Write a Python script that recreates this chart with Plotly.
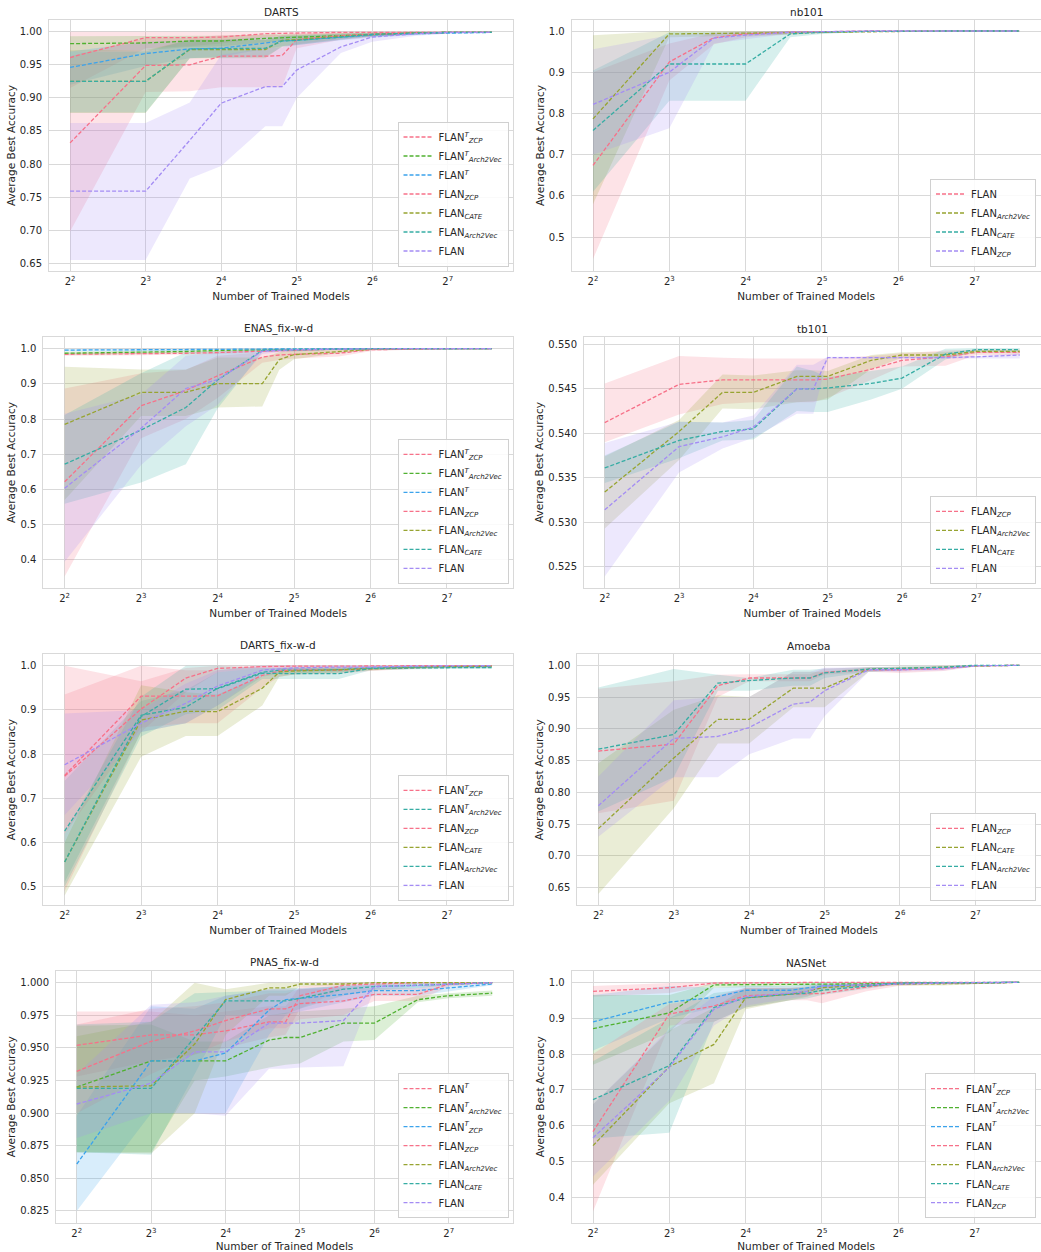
import math
import plotly.graph_objects as go

# ---------------- data ----------------
X = [4, 8, 12, 16, 24, 28, 32, 48, 64, 96, 128, 192]
XTICKS = [4, 8, 16, 32, 64, 128]
XTICKTEXT = ["2<sup>2</sup>", "2<sup>3</sup>", "2<sup>4</sup>", "2<sup>5</sup>", "2<sup>6</sup>", "2<sup>7</sup>"]

# DARTS
darts_tzcp = [0.961, 0.991, 0.991, 0.992, 0.997, 0.998, 0.998, 0.999, 0.999, 0.999, 0.999, 0.999]
darts_tzcp_lo = [0.915, 0.975, 0.978, 0.982, 0.992, 0.994, 0.995, 0.997, 0.998, 0.998, 0.999, 0.999]
darts_tzcp_hi = [1.000, 1.000, 1.000, 1.000, 1.000, 1.000, 1.000, 1.000, 1.000, 1.000, 1.000, 1.000]
darts_tarch = [0.982, 0.983, 0.986, 0.986, 0.990, 0.991, 0.991, 0.994, 0.996, 0.998, 0.999, 0.999]
darts_tarch_lo = [0.970, 0.972, 0.977, 0.978, 0.984, 0.986, 0.987, 0.990, 0.993, 0.996, 0.998, 0.998]
darts_tarch_hi = [0.993, 0.993, 0.994, 0.994, 0.996, 0.996, 0.996, 0.998, 0.999, 1.000, 1.000, 1.000]
darts_t = [0.946, 0.967, 0.974, 0.975, 0.983, 0.986, 0.987, 0.992, 0.995, 0.997, 0.998, 0.999]
darts_t_lo = [0.920, 0.948, 0.960, 0.962, 0.974, 0.978, 0.980, 0.987, 0.991, 0.995, 0.997, 0.998]
darts_t_hi = [0.970, 0.985, 0.987, 0.988, 0.992, 0.993, 0.994, 0.996, 0.998, 0.999, 1.000, 1.000]
darts_zcp = [0.832, 0.949, 0.950, 0.963, 0.963, 0.964, 0.988, 0.994, 0.996, 0.998, 0.999, 0.999]
darts_zcp_lo = [0.698, 0.909, 0.910, 0.916, 0.916, 0.916, 0.975, 0.988, 0.992, 0.996, 0.998, 0.998]
darts_zcp_hi = [0.963, 0.990, 0.990, 0.995, 0.995, 0.995, 0.998, 0.999, 1.000, 1.000, 1.000, 1.000]
darts_cate = [0.925, 0.925, 0.973, 0.973, 0.973, 0.987, 0.988, 0.993, 0.996, 0.998, 0.999, 0.999]
darts_cate_lo = [0.877, 0.877, 0.960, 0.960, 0.960, 0.978, 0.980, 0.989, 0.993, 0.996, 0.998, 0.998]
darts_cate_hi = [0.972, 0.972, 0.988, 0.988, 0.988, 0.994, 0.995, 0.997, 0.998, 0.999, 1.000, 1.000]
darts_arch = [0.925, 0.925, 0.974, 0.974, 0.975, 0.986, 0.987, 0.992, 0.996, 0.998, 0.999, 0.999]
darts_arch_lo = [0.878, 0.878, 0.960, 0.961, 0.962, 0.977, 0.979, 0.988, 0.993, 0.996, 0.998, 0.998]
darts_arch_hi = [0.970, 0.970, 0.988, 0.988, 0.988, 0.994, 0.995, 0.997, 0.998, 0.999, 1.000, 1.000]
darts_flan = [0.759, 0.759, 0.836, 0.892, 0.917, 0.917, 0.942, 0.977, 0.992, 0.997, 0.999, 0.999]
darts_flan_lo = [0.655, 0.655, 0.778, 0.797, 0.857, 0.857, 0.900, 0.968, 0.985, 0.994, 0.997, 0.998]
darts_flan_hi = [0.862, 0.862, 0.893, 0.965, 0.975, 0.976, 0.985, 0.990, 0.998, 1.000, 1.000, 1.000]

# nb101
nb_flan = [0.674, 0.925, 0.984, 0.993, 0.997, 0.998, 0.999, 1.000, 1.000, 1.000, 1.000, 1.000]
nb_flan_lo = [0.447, 0.880, 0.968, 0.985, 0.993, 0.995, 0.997, 0.999, 1.000, 1.000, 1.000, 1.000]
nb_flan_hi = [0.900, 0.970, 0.995, 0.998, 1.000, 1.000, 1.000, 1.000, 1.000, 1.000, 1.000, 1.000]
nb_arch = [0.787, 0.993, 0.994, 0.995, 0.996, 0.997, 0.998, 0.999, 1.000, 1.000, 1.000, 1.000]
nb_arch_lo = [0.580, 0.985, 0.987, 0.989, 0.991, 0.993, 0.995, 0.998, 0.999, 1.000, 1.000, 1.000]
nb_arch_hi = [0.990, 1.000, 1.000, 1.000, 1.000, 1.000, 1.000, 1.000, 1.000, 1.000, 1.000, 1.000]
nb_cate = [0.759, 0.920, 0.920, 0.920, 0.993, 0.995, 0.997, 0.999, 1.000, 1.000, 1.000, 1.000]
nb_cate_lo = [0.610, 0.831, 0.831, 0.831, 0.985, 0.989, 0.993, 0.998, 1.000, 1.000, 1.000, 1.000]
nb_cate_hi = [0.904, 0.997, 0.997, 0.997, 1.000, 1.000, 1.000, 1.000, 1.000, 1.000, 1.000, 1.000]
nb_zcp = [0.822, 0.900, 0.983, 0.990, 0.997, 0.998, 0.999, 1.000, 1.000, 1.000, 1.000, 1.000]
nb_zcp_lo = [0.700, 0.764, 0.970, 0.980, 0.993, 0.995, 0.997, 0.999, 1.000, 1.000, 1.000, 1.000]
nb_zcp_hi = [0.956, 0.990, 0.995, 0.998, 1.000, 1.000, 1.000, 1.000, 1.000, 1.000, 1.000, 1.000]

# ENAS_fix-w-d
enas_tzcp = [0.984, 0.985, 0.987, 0.989, 0.993, 0.995, 0.997, 0.999, 1.000, 1.000, 1.000, 1.000]
enas_tzcp_lo = [0.980, 0.981, 0.983, 0.985, 0.990, 0.992, 0.994, 0.997, 0.999, 1.000, 1.000, 1.000]
enas_tzcp_hi = [0.988, 0.989, 0.991, 0.993, 0.996, 0.998, 0.999, 1.000, 1.000, 1.000, 1.000, 1.000]
enas_tarch = [0.987, 0.989, 0.992, 0.995, 0.997, 0.998, 0.999, 1.000, 1.000, 1.000, 1.000, 1.000]
enas_tarch_lo = [0.983, 0.985, 0.988, 0.992, 0.995, 0.996, 0.997, 0.999, 1.000, 1.000, 1.000, 1.000]
enas_tarch_hi = [0.991, 0.993, 0.996, 0.998, 0.999, 1.000, 1.000, 1.000, 1.000, 1.000, 1.000, 1.000]
enas_t = [0.996, 0.996, 0.997, 0.998, 0.999, 0.999, 1.000, 1.000, 1.000, 1.000, 1.000, 1.000]
enas_t_lo = [0.993, 0.993, 0.995, 0.996, 0.998, 0.998, 0.999, 1.000, 1.000, 1.000, 1.000, 1.000]
enas_t_hi = [0.999, 0.999, 0.999, 1.000, 1.000, 1.000, 1.000, 1.000, 1.000, 1.000, 1.000, 1.000]
enas_zcp = [0.622, 0.838, 0.881, 0.923, 0.976, 0.982, 0.984, 0.987, 0.997, 0.999, 1.000, 1.000]
enas_zcp_lo = [0.353, 0.746, 0.800, 0.860, 0.960, 0.968, 0.972, 0.978, 0.993, 0.998, 1.000, 1.000]
enas_zcp_hi = [0.887, 0.930, 0.940, 0.980, 0.990, 0.993, 0.995, 0.996, 1.000, 1.000, 1.000, 1.000]
enas_arch = [0.785, 0.876, 0.876, 0.901, 0.901, 0.969, 0.983, 0.993, 0.998, 1.000, 1.000, 1.000]
enas_arch_lo = [0.570, 0.809, 0.809, 0.833, 0.836, 0.940, 0.970, 0.987, 0.996, 0.999, 1.000, 1.000]
enas_arch_hi = [0.949, 0.941, 0.941, 0.975, 0.975, 0.990, 0.995, 0.998, 1.000, 1.000, 1.000, 1.000]
enas_cate = [0.672, 0.769, 0.833, 0.911, 0.995, 0.996, 0.997, 0.999, 1.000, 1.000, 1.000, 1.000]
enas_cate_lo = [0.560, 0.620, 0.672, 0.830, 0.990, 0.992, 0.994, 0.998, 1.000, 1.000, 1.000, 1.000]
enas_cate_hi = [0.812, 0.930, 0.990, 0.995, 1.000, 1.000, 1.000, 1.000, 1.000, 1.000, 1.000, 1.000]
enas_flan = [0.604, 0.774, 0.887, 0.912, 0.993, 0.995, 0.997, 0.999, 1.000, 1.000, 1.000, 1.000]
enas_flan_lo = [0.395, 0.670, 0.780, 0.840, 0.985, 0.990, 0.993, 0.997, 1.000, 1.000, 1.000, 1.000]
enas_flan_hi = [0.815, 0.870, 0.980, 0.990, 1.000, 1.000, 1.000, 1.000, 1.000, 1.000, 1.000, 1.000]

# tb101
tb_zcp = [0.5412, 0.5455, 0.5460, 0.5460, 0.5460, 0.5460, 0.5461, 0.5472, 0.5482, 0.5486, 0.5491, 0.5491]
tb_zcp_lo = [0.5390, 0.5421, 0.5433, 0.5435, 0.5435, 0.5435, 0.5440, 0.5460, 0.5475, 0.5476, 0.5488, 0.5488]
tb_zcp_hi = [0.5456, 0.5487, 0.5485, 0.5484, 0.5484, 0.5484, 0.5484, 0.5487, 0.5490, 0.5493, 0.5494, 0.5494]
tb_arch = [0.5334, 0.5402, 0.5446, 0.5446, 0.5464, 0.5464, 0.5464, 0.5482, 0.5488, 0.5488, 0.5492, 0.5492]
tb_arch_lo = [0.5293, 0.5370, 0.5428, 0.5427, 0.5435, 0.5436, 0.5438, 0.5472, 0.5485, 0.5485, 0.5490, 0.5490]
tb_arch_hi = [0.5374, 0.5415, 0.5466, 0.5465, 0.5471, 0.5471, 0.5470, 0.5488, 0.5491, 0.5491, 0.5494, 0.5494]
tb_cate = [0.5361, 0.5392, 0.5402, 0.5405, 0.5450, 0.5450, 0.5451, 0.5456, 0.5462, 0.5489, 0.5494, 0.5494]
tb_cate_lo = [0.5344, 0.5372, 0.5392, 0.5393, 0.5425, 0.5424, 0.5424, 0.5438, 0.5450, 0.5483, 0.5492, 0.5492]
tb_cate_hi = [0.5375, 0.5413, 0.5412, 0.5415, 0.5475, 0.5470, 0.5463, 0.5470, 0.5475, 0.5495, 0.5496, 0.5496]
tb_flan = [0.5314, 0.5385, 0.5396, 0.5407, 0.5450, 0.5450, 0.5485, 0.5485, 0.5485, 0.5485, 0.5486, 0.5488]
tb_flan_lo = [0.5239, 0.5356, 0.5383, 0.5395, 0.5422, 0.5422, 0.5484, 0.5484, 0.5484, 0.5484, 0.5484, 0.5484]
tb_flan_hi = [0.5389, 0.5413, 0.5412, 0.5420, 0.5477, 0.5477, 0.5486, 0.5486, 0.5486, 0.5486, 0.5487, 0.5490]

# DARTS_fix-w-d
dfix_tzcp = [0.750, 0.902, 0.972, 0.994, 0.998, 0.999, 0.999, 0.999, 1.000, 1.000, 1.000, 1.000]
dfix_tzcp_lo = [0.490, 0.850, 0.940, 0.985, 0.995, 0.997, 0.997, 0.998, 0.999, 1.000, 1.000, 1.000]
dfix_tzcp_hi = [1.000, 0.965, 0.995, 1.000, 1.000, 1.000, 1.000, 1.000, 1.000, 1.000, 1.000, 1.000]
dfix_tarch = [0.626, 0.888, 0.906, 0.949, 0.985, 0.990, 0.990, 0.991, 0.995, 0.997, 0.998, 0.998]
dfix_tarch_lo = [0.510, 0.850, 0.870, 0.910, 0.975, 0.982, 0.983, 0.985, 0.991, 0.994, 0.996, 0.996]
dfix_tarch_hi = [0.740, 0.920, 0.945, 0.985, 0.995, 0.996, 0.996, 0.997, 0.998, 0.999, 1.000, 1.000]
dfix_zcp = [0.752, 0.931, 0.931, 0.932, 0.978, 0.988, 0.990, 0.990, 0.993, 0.996, 0.998, 0.999]
dfix_zcp_lo = [0.620, 0.860, 0.870, 0.870, 0.950, 0.975, 0.980, 0.982, 0.988, 0.993, 0.996, 0.998]
dfix_zcp_hi = [0.935, 1.000, 0.990, 0.990, 1.000, 1.000, 1.000, 0.998, 0.998, 0.999, 1.000, 1.000]
dfix_cate = [0.556, 0.877, 0.897, 0.896, 0.949, 0.986, 0.988, 0.990, 0.993, 0.996, 0.998, 0.999]
dfix_cate_lo = [0.480, 0.794, 0.841, 0.841, 0.910, 0.975, 0.980, 0.984, 0.989, 0.993, 0.996, 0.998]
dfix_cate_hi = [0.600, 0.956, 0.940, 0.935, 0.975, 0.995, 0.996, 0.997, 0.998, 0.999, 1.000, 1.000]
dfix_arch = [0.556, 0.885, 0.947, 0.948, 0.983, 0.982, 0.982, 0.982, 0.994, 0.995, 0.996, 0.996]
dfix_arch_lo = [0.500, 0.840, 0.890, 0.900, 0.970, 0.970, 0.970, 0.970, 0.990, 0.992, 0.993, 0.993]
dfix_arch_hi = [0.620, 0.930, 1.000, 1.000, 0.995, 0.995, 0.995, 0.995, 0.998, 0.998, 0.999, 0.999]
dfix_flan = [0.776, 0.870, 0.915, 0.954, 0.990, 0.993, 0.995, 0.997, 0.997, 0.999, 1.000, 1.000]
dfix_flan_lo = [0.662, 0.850, 0.870, 0.910, 0.980, 0.985, 0.989, 0.993, 0.994, 0.997, 0.999, 0.999]
dfix_flan_hi = [0.892, 0.900, 0.960, 0.990, 1.000, 1.000, 1.000, 1.000, 1.000, 1.000, 1.000, 1.000]

# Amoeba
amo_zcp = [0.865, 0.876, 0.968, 0.980, 0.980, 0.980, 0.989, 0.993, 0.993, 0.995, 0.999, 1.000]
amo_zcp_lo = [0.767, 0.787, 0.950, 0.975, 0.975, 0.975, 0.985, 0.990, 0.988, 0.991, 0.998, 1.000]
amo_zcp_hi = [0.963, 0.975, 0.985, 0.986, 0.986, 0.986, 0.995, 0.997, 0.996, 0.998, 1.000, 1.000]
amo_cate = [0.743, 0.854, 0.915, 0.915, 0.964, 0.964, 0.964, 0.994, 0.995, 0.997, 0.999, 1.000]
amo_cate_lo = [0.640, 0.775, 0.877, 0.877, 0.934, 0.934, 0.934, 0.990, 0.992, 0.995, 0.998, 1.000]
amo_cate_hi = [0.846, 0.930, 0.953, 0.950, 0.990, 0.990, 0.990, 0.997, 0.998, 0.999, 1.000, 1.000]
amo_arch = [0.868, 0.891, 0.972, 0.976, 0.980, 0.980, 0.988, 0.994, 0.995, 0.997, 1.000, 1.000]
amo_arch_lo = [0.770, 0.824, 0.960, 0.960, 0.968, 0.968, 0.980, 0.990, 0.992, 0.995, 0.999, 1.000]
amo_arch_hi = [0.965, 0.994, 0.985, 0.980, 0.993, 0.993, 0.995, 0.997, 0.998, 0.999, 1.000, 1.000]
amo_flan = [0.779, 0.885, 0.888, 0.902, 0.939, 0.942, 0.960, 0.993, 0.993, 0.995, 0.999, 1.000]
amo_flan_lo = [0.730, 0.824, 0.824, 0.860, 0.885, 0.885, 0.920, 0.990, 0.990, 0.992, 0.998, 1.000]
amo_flan_hi = [0.825, 0.945, 0.950, 0.950, 0.990, 0.990, 0.996, 0.997, 0.997, 0.998, 1.000, 1.000]

# PNAS_fix-w-d
pnas_t = [0.952, 0.960, 0.960, 0.963, 0.970, 0.970, 0.990, 0.998, 0.999, 1.000, 1.000, 1.000]
pnas_t_lo = [0.928, 0.940, 0.945, 0.950, 0.958, 0.960, 0.980, 0.995, 0.997, 0.999, 1.000, 1.000]
pnas_t_hi = [0.978, 0.978, 0.975, 0.978, 0.982, 0.982, 0.997, 1.000, 1.000, 1.000, 1.000, 1.000]
pnas_tarch = [0.920, 0.940, 0.940, 0.940, 0.956, 0.958, 0.958, 0.969, 0.969, 0.987, 0.990, 0.992]
pnas_tarch_lo = [0.870, 0.870, 0.925, 0.928, 0.935, 0.937, 0.938, 0.955, 0.956, 0.985, 0.988, 0.990]
pnas_tarch_hi = [0.967, 0.968, 0.955, 0.955, 0.975, 0.977, 0.978, 0.980, 0.982, 0.990, 0.992, 0.994]
pnas_tzcp = [0.861, 0.940, 0.940, 0.946, 0.979, 0.987, 0.988, 0.991, 0.994, 0.994, 0.996, 0.999]
pnas_tzcp_lo = [0.825, 0.900, 0.900, 0.900, 0.960, 0.975, 0.978, 0.985, 0.990, 0.990, 0.993, 0.998]
pnas_tzcp_hi = [0.898, 0.982, 0.980, 0.990, 0.995, 0.996, 0.996, 0.997, 0.998, 0.998, 0.999, 1.000]
pnas_zcp = [0.932, 0.955, 0.963, 0.971, 0.980, 0.980, 0.984, 0.986, 0.991, 0.991, 0.999, 1.000]
pnas_zcp_lo = [0.900, 0.930, 0.945, 0.955, 0.965, 0.965, 0.972, 0.975, 0.986, 0.986, 0.997, 1.000]
pnas_zcp_hi = [0.968, 0.980, 0.982, 0.985, 0.992, 0.992, 0.995, 0.996, 0.996, 0.996, 1.000, 1.000]
pnas_arch = [0.920, 0.921, 0.953, 0.987, 0.996, 0.996, 0.999, 0.999, 1.000, 1.000, 1.000, 1.000]
pnas_arch_lo = [0.870, 0.869, 0.900, 0.960, 0.990, 0.990, 0.997, 0.998, 1.000, 1.000, 1.000, 1.000]
pnas_arch_hi = [0.959, 0.970, 1.000, 0.995, 1.000, 1.000, 1.000, 1.000, 1.000, 1.000, 1.000, 1.000]
pnas_cate = [0.919, 0.919, 0.958, 0.986, 0.986, 0.986, 0.988, 0.995, 0.997, 0.998, 0.999, 1.000]
pnas_cate_lo = [0.870, 0.868, 0.930, 0.975, 0.975, 0.976, 0.980, 0.990, 0.994, 0.996, 0.998, 1.000]
pnas_cate_hi = [0.968, 0.970, 0.992, 0.993, 0.994, 0.994, 0.995, 0.998, 0.999, 1.000, 1.000, 1.000]
pnas_flan = [0.907, 0.923, 0.947, 0.947, 0.969, 0.969, 0.969, 0.971, 0.997, 0.998, 0.999, 1.000]
pnas_flan_lo = [0.881, 0.900, 0.900, 0.898, 0.934, 0.934, 0.935, 0.936, 0.995, 0.997, 0.998, 1.000]
pnas_flan_hi = [0.930, 0.983, 0.985, 0.990, 0.995, 0.995, 0.995, 0.997, 1.000, 1.000, 1.000, 1.000]

# NASNet
nas_tzcp = [0.975, 0.985, 0.998, 0.999, 0.999, 0.999, 1.000, 1.000, 1.000, 1.000, 1.000, 1.000]
nas_tzcp_lo = [0.960, 0.970, 0.994, 0.997, 0.998, 0.998, 0.999, 1.000, 1.000, 1.000, 1.000, 1.000]
nas_tzcp_hi = [0.990, 0.998, 1.000, 1.000, 1.000, 1.000, 1.000, 1.000, 1.000, 1.000, 1.000, 1.000]
nas_tarch = [0.871, 0.915, 0.993, 0.993, 0.994, 0.995, 0.995, 0.996, 0.997, 0.998, 0.999, 1.000]
nas_tarch_lo = [0.770, 0.860, 0.985, 0.986, 0.988, 0.989, 0.990, 0.992, 0.994, 0.996, 0.998, 1.000]
nas_tarch_hi = [0.965, 0.965, 0.999, 0.999, 0.999, 0.999, 1.000, 1.000, 1.000, 1.000, 1.000, 1.000]
nas_t = [0.890, 0.945, 0.958, 0.978, 0.978, 0.985, 0.990, 0.993, 0.997, 0.998, 0.999, 1.000]
nas_t_lo = [0.810, 0.900, 0.930, 0.965, 0.965, 0.975, 0.982, 0.988, 0.994, 0.996, 0.998, 1.000]
nas_t_hi = [0.965, 0.990, 0.985, 0.990, 0.990, 0.995, 0.997, 0.998, 0.999, 1.000, 1.000, 1.000]
nas_flan = [0.584, 0.912, 0.934, 0.963, 0.967, 0.967, 0.969, 0.987, 0.997, 0.998, 0.999, 1.000]
nas_flan_lo = [0.361, 0.880, 0.890, 0.930, 0.950, 0.950, 0.942, 0.975, 0.990, 0.995, 0.998, 1.000]
nas_flan_hi = [0.800, 0.940, 0.960, 0.985, 0.985, 0.985, 0.990, 0.995, 1.000, 1.000, 1.000, 1.000]
nas_arch = [0.545, 0.765, 0.827, 0.957, 0.967, 0.975, 0.985, 0.993, 0.995, 0.995, 0.997, 1.000]
nas_arch_lo = [0.436, 0.663, 0.719, 0.925, 0.950, 0.960, 0.975, 0.988, 0.991, 0.991, 0.995, 1.000]
nas_arch_hi = [0.660, 0.865, 0.930, 0.985, 0.985, 0.990, 0.993, 0.997, 0.998, 0.998, 0.999, 1.000]
nas_cate = [0.673, 0.768, 0.930, 0.957, 0.967, 0.970, 0.978, 0.990, 0.998, 0.999, 1.000, 1.000]
nas_cate_lo = [0.565, 0.581, 0.890, 0.930, 0.950, 0.955, 0.965, 0.983, 0.995, 0.998, 1.000, 1.000]
nas_cate_hi = [0.780, 0.900, 0.970, 0.980, 0.985, 0.985, 0.990, 0.996, 1.000, 1.000, 1.000, 1.000]
nas_zcp = [0.567, 0.763, 0.925, 0.960, 0.970, 0.975, 0.990, 0.993, 0.997, 0.998, 0.999, 1.000]
nas_zcp_lo = [0.459, 0.670, 0.880, 0.935, 0.955, 0.962, 0.982, 0.988, 0.994, 0.996, 0.998, 1.000]
nas_zcp_hi = [0.660, 0.870, 0.960, 0.985, 0.985, 0.988, 0.996, 0.998, 0.999, 1.000, 1.000, 1.000]

# ---------------- labels / colours ----------------
L_TZCP = "FLAN<sup><i>T</i></sup><sub><i>ZCP</i></sub>"
L_TARCH = "FLAN<sup><i>T</i></sup><sub><i>Arch2Vec</i></sub>"
L_T = "FLAN<sup><i>T</i></sup>"
L_ZCP = "FLAN<sub><i>ZCP</i></sub>"
L_CATE = "FLAN<sub><i>CATE</i></sub>"
L_ARCH = "FLAN<sub><i>Arch2Vec</i></sub>"
L_FLAN = "FLAN"

PINK, GREEN, BLUE = "#f77189", "#50b131", "#3ba3ec"
OLIVE, TEAL, PURPLE = "#97a431", "#36ada4", "#a48cf4"

W, H = 1041, 1252
FONT = "DejaVu Sans"
TXT = "#262626"
GRID = "#d9d9d9"

panels = [
    dict(title="DARTS", xpx=(49, 513), ypx=(20, 271), yr=(0.6384, 1.0177),
         yt=[0.65, 0.70, 0.75, 0.80, 0.85, 0.90, 0.95, 1.00], fmt=".2f",
         series=[(L_TZCP, PINK, darts_tzcp, darts_tzcp_lo, darts_tzcp_hi),
                 (L_TARCH, GREEN, darts_tarch, darts_tarch_lo, darts_tarch_hi),
                 (L_T, BLUE, darts_t, darts_t_lo, darts_t_hi),
                 (L_ZCP, PINK, darts_zcp, darts_zcp_lo, darts_zcp_hi),
                 (L_CATE, OLIVE, darts_cate, darts_cate_lo, darts_cate_hi),
                 (L_ARCH, TEAL, darts_arch, darts_arch_lo, darts_arch_hi),
                 (L_FLAN, PURPLE, darts_flan, darts_flan_lo, darts_flan_hi)]),
    dict(title="nb101", xpx=(571.7, 1040.5), ypx=(20, 271), yr=(0.418, 1.0267),
         yt=[0.5, 0.6, 0.7, 0.8, 0.9, 1.0], fmt=".1f",
         series=[(L_FLAN, PINK, nb_flan, nb_flan_lo, nb_flan_hi),
                 (L_ARCH, OLIVE, nb_arch, nb_arch_lo, nb_arch_hi),
                 (L_CATE, TEAL, nb_cate, nb_cate_lo, nb_cate_hi),
                 (L_ZCP, PURPLE, nb_zcp, nb_zcp_lo, nb_zcp_hi)]),
    dict(title="ENAS_fix-w-d", xpx=(43.3, 513), ypx=(336.7, 588.3), yr=(0.3196, 1.034),
         yt=[0.4, 0.5, 0.6, 0.7, 0.8, 0.9, 1.0], fmt=".1f",
         series=[(L_TZCP, PINK, enas_tzcp, enas_tzcp_lo, enas_tzcp_hi),
                 (L_TARCH, GREEN, enas_tarch, enas_tarch_lo, enas_tarch_hi),
                 (L_T, BLUE, enas_t, enas_t_lo, enas_t_hi),
                 (L_ZCP, PINK, enas_zcp, enas_zcp_lo, enas_zcp_hi),
                 (L_ARCH, OLIVE, enas_arch, enas_arch_lo, enas_arch_hi),
                 (L_CATE, TEAL, enas_cate, enas_cate_lo, enas_cate_hi),
                 (L_FLAN, PURPLE, enas_flan, enas_flan_lo, enas_flan_hi)]),
    dict(title="tb101", xpx=(584, 1040.5), ypx=(336.7, 588.3), yr=(0.52257, 0.55086),
         yt=[0.525, 0.530, 0.535, 0.540, 0.545, 0.550], fmt=".3f",
         series=[(L_ZCP, PINK, tb_zcp, tb_zcp_lo, tb_zcp_hi),
                 (L_ARCH, OLIVE, tb_arch, tb_arch_lo, tb_arch_hi),
                 (L_CATE, TEAL, tb_cate, tb_cate_lo, tb_cate_hi),
                 (L_FLAN, PURPLE, tb_flan, tb_flan_lo, tb_flan_hi)]),
    dict(title="DARTS_fix-w-d", xpx=(43.3, 513), ypx=(654, 905.3), yr=(0.458, 1.0265),
         yt=[0.5, 0.6, 0.7, 0.8, 0.9, 1.0], fmt=".1f",
         series=[(L_TZCP, PINK, dfix_tzcp, dfix_tzcp_lo, dfix_tzcp_hi),
                 (L_TARCH, TEAL, dfix_tarch, dfix_tarch_lo, dfix_tarch_hi),
                 (L_ZCP, PINK, dfix_zcp, dfix_zcp_lo, dfix_zcp_hi),
                 (L_CATE, OLIVE, dfix_cate, dfix_cate_lo, dfix_cate_hi),
                 (L_ARCH, TEAL, dfix_arch, dfix_arch_lo, dfix_arch_hi),
                 (L_FLAN, PURPLE, dfix_flan, dfix_flan_lo, dfix_flan_hi)]),
    dict(title="Amoeba", xpx=(577.3, 1040.5), ypx=(654, 905.3), yr=(0.6223, 1.0178),
         yt=[0.65, 0.70, 0.75, 0.80, 0.85, 0.90, 0.95, 1.00], fmt=".2f",
         series=[(L_ZCP, PINK, amo_zcp, amo_zcp_lo, amo_zcp_hi),
                 (L_CATE, OLIVE, amo_cate, amo_cate_lo, amo_cate_hi),
                 (L_ARCH, TEAL, amo_arch, amo_arch_lo, amo_arch_hi),
                 (L_FLAN, PURPLE, amo_flan, amo_flan_lo, amo_flan_hi)]),
    dict(title="PNAS_fix-w-d", xpx=(56, 513), ypx=(970.7, 1222.7), yr=(0.816, 1.0092),
         yt=[0.825, 0.850, 0.875, 0.900, 0.925, 0.950, 0.975, 1.000], fmt=".3f",
         series=[(L_T, PINK, pnas_t, pnas_t_lo, pnas_t_hi),
                 (L_TARCH, GREEN, pnas_tarch, pnas_tarch_lo, pnas_tarch_hi),
                 (L_TZCP, BLUE, pnas_tzcp, pnas_tzcp_lo, pnas_tzcp_hi),
                 (L_ZCP, PINK, pnas_zcp, pnas_zcp_lo, pnas_zcp_hi),
                 (L_ARCH, OLIVE, pnas_arch, pnas_arch_lo, pnas_arch_hi),
                 (L_CATE, TEAL, pnas_cate, pnas_cate_lo, pnas_cate_hi),
                 (L_FLAN, PURPLE, pnas_flan, pnas_flan_lo, pnas_flan_hi)]),
    dict(title="NASNet", xpx=(571.7, 1040.5), ypx=(970.7, 1222.7), yr=(0.330, 1.0325),
         yt=[0.4, 0.5, 0.6, 0.7, 0.8, 0.9, 1.0], fmt=".1f",
         series=[(L_TZCP, PINK, nas_tzcp, nas_tzcp_lo, nas_tzcp_hi),
                 (L_TARCH, GREEN, nas_tarch, nas_tarch_lo, nas_tarch_hi),
                 (L_T, BLUE, nas_t, nas_t_lo, nas_t_hi),
                 (L_FLAN, PINK, nas_flan, nas_flan_lo, nas_flan_hi),
                 (L_ARCH, OLIVE, nas_arch, nas_arch_lo, nas_arch_hi),
                 (L_CATE, TEAL, nas_cate, nas_cate_lo, nas_cate_hi),
                 (L_ZCP, PURPLE, nas_zcp, nas_zcp_lo, nas_zcp_hi)]),
]


def rgba(h, a):
    h = h.lstrip("#")
    return "rgba(%d,%d,%d,%.3f)" % (int(h[0:2], 16), int(h[2:4], 16), int(h[4:6], 16), a)


lx0, lx1 = math.log10(min(X)), math.log10(max(X))
pad = 0.05 * (lx1 - lx0)
XRANGE = [lx0 - pad, lx1 + pad]

fig = go.Figure()
layout = dict(width=W, height=H, margin=dict(l=0, r=0, t=0, b=0), autosize=False,
              paper_bgcolor="white", plot_bgcolor="white",
              font=dict(family=FONT, color=TXT, size=10), annotations=[])

for i, p in enumerate(panels, start=1):
    sx = "" if i == 1 else str(i)
    xa, ya = "x" + sx, "y" + sx
    leg = "legend" + sx
    # bands first (drawn below all lines)
    for name, col, m, lo, hi in p["series"]:
        fig.add_trace(go.Scatter(x=X + X[::-1], y=hi + lo[::-1], fill="toself",
                                 fillcolor=rgba(col, 0.2), line=dict(width=0),
                                 mode="lines", hoverinfo="skip", showlegend=False,
                                 xaxis=xa, yaxis=ya))
    for name, col, m, lo, hi in p["series"]:
        fig.add_trace(go.Scatter(x=X, y=m, mode="lines", name=name,
                                 line=dict(color=col, width=1.3, dash="4px,2px"),
                                 xaxis=xa, yaxis=ya, legend=leg))
    x0, x1 = p["xpx"]
    y0, y1 = p["ypx"]
    xd = [x0 / W, x1 / W]
    yd = [1 - y1 / H, 1 - y0 / H]
    layout["xaxis" + sx] = dict(domain=xd, anchor=ya, type="log", range=XRANGE,
                                tickvals=XTICKS, ticktext=XTICKTEXT, ticks="",
                                ticklabelstandoff=1,
                                showgrid=True, gridcolor=GRID, gridwidth=1,
                                showline=True, mirror=True, linecolor=GRID, linewidth=1,
                                zeroline=False, tickfont=dict(size=10, color=TXT),
                                title=dict(text="Number of Trained Models",
                                           font=dict(size=10.5, color=TXT), standoff=6))
    layout["yaxis" + sx] = dict(domain=yd, anchor=xa, range=list(p["yr"]),
                                tickvals=p["yt"], tickformat=p["fmt"], ticks="",
                                ticklabelstandoff=4,
                                showgrid=True, gridcolor=GRID, gridwidth=1,
                                showline=True, mirror=True, linecolor=GRID, linewidth=1,
                                zeroline=False, tickfont=dict(size=10, color=TXT),
                                title=dict(text="Average Best Accuracy",
                                           font=dict(size=10.5, color=TXT), standoff=2))
    layout[leg] = dict(x=(x1 - 4.5) / W, y=1 - (y1 - 4.5) / H, xanchor="right", yanchor="bottom",
                       bgcolor="rgba(255,255,255,0.85)", bordercolor="#d0d0d0", borderwidth=1,
                       font=dict(size=10, color=TXT), itemwidth=30, tracegroupgap=0,
                       traceorder="normal")
    layout["annotations"].append(dict(text=p["title"], x=(x0 + x1) / 2 / W, y=yd[1],
                                      xref="paper", yref="paper", xanchor="center",
                                      yanchor="bottom", yshift=0, showarrow=False,
                                      font=dict(size=10.5, color=TXT)))

fig.update_layout(**layout)
fig.write_html("out.html", config={"displayModeBar": False},
               post_script="document.body.style.margin='0px';document.body.style.overflow='hidden';")
